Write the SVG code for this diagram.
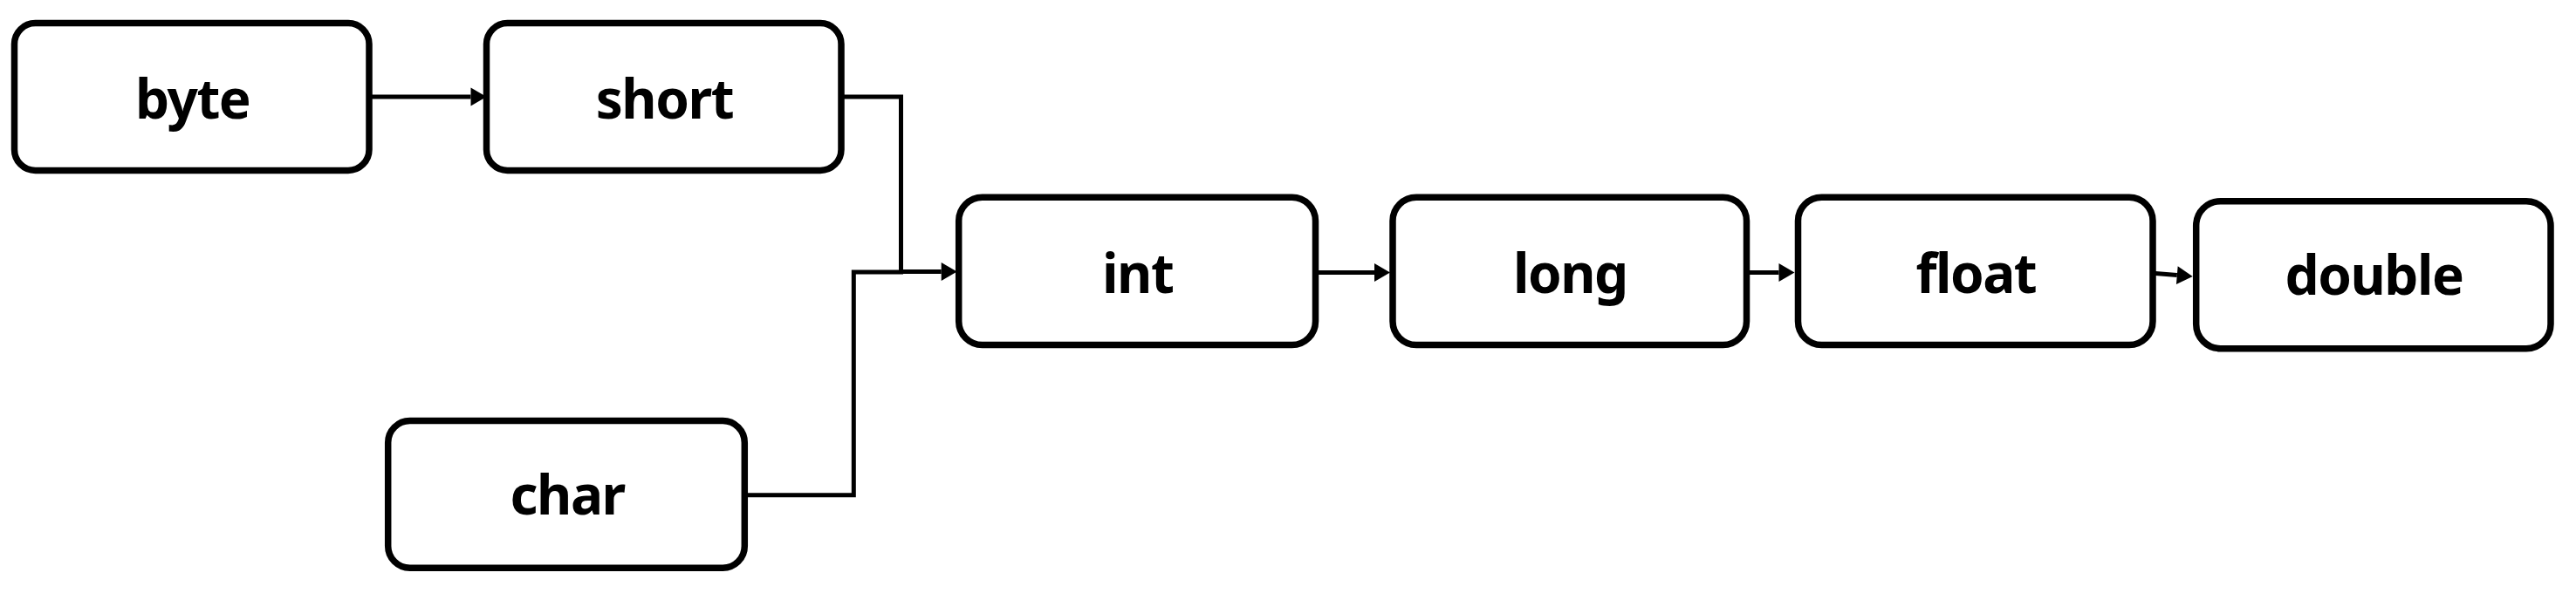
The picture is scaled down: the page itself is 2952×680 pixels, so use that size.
<svg xmlns="http://www.w3.org/2000/svg" width="2952" height="680" viewBox="0 0 2952 680">
<style>
.box{fill:#fff;stroke:#000;stroke-width:7.5}
.lbl{font-family:"Noto Sans","Open Sans","Liberation Sans",sans-serif;font-weight:bold;font-size:62px;letter-spacing:-1.5px;fill:#000;text-anchor:middle}
.edge{fill:none;stroke:#000;stroke-width:5}
</style>
<defs>
<marker id="arr" markerUnits="userSpaceOnUse" markerWidth="20" markerHeight="22" refX="0" refY="10.5" orient="auto" overflow="visible">
<path d="M0,0 L18,10.5 L0,21 z" fill="#000"/>
</marker>
</defs>
<rect width="2952" height="680" fill="#fff"/>
<g id="connectors">
<path class="edge" d="M423,111 L539.5,111" marker-end="url(#arr)"/>
<path class="edge" d="M964,111 L1032.5,111 L1032.5,311.5 L1078.7,311.5" marker-end="url(#arr)"/>
<path class="edge" d="M853.3,567.7 L978.3,567.7 L978.3,312 L1035,312"/>
<path class="edge" d="M1507.5,312.5 L1575,312.5" marker-end="url(#arr)"/>
<path class="edge" d="M2001.5,312.5 L2038.5,312.5" marker-end="url(#arr)"/>
<path class="edge" d="M2467,313.3 L2494.8,315.6" marker-end="url(#arr)"/>
</g>
<g id="node-byte">
<rect class="box" x="16.5" y="26.5" width="406.5" height="169" rx="24"/>
<text class="lbl" x="220.7" y="136">byte</text>
</g>
<g id="node-short">
<rect class="box" x="557.5" y="26.5" width="406.5" height="169" rx="24"/>
<text class="lbl" x="761.4" y="136">short</text>
</g>
<g id="node-char">
<rect class="box" x="444.7" y="482.5" width="408.6" height="168.7" rx="25"/>
<text class="lbl" x="650.2" y="590">char</text>
</g>
<g id="node-int">
<rect class="box" x="1098.7" y="226.3" width="408.8" height="169.2" rx="27"/>
<text class="lbl" x="1303.7" y="336">int</text>
</g>
<g id="node-long">
<rect class="box" x="1596" y="226.3" width="405.5" height="169.2" rx="27"/>
<text class="lbl" x="1799.4" y="336">long</text>
</g>
<g id="node-float">
<rect class="box" x="2060.5" y="226.3" width="406.5" height="169.2" rx="27"/>
<text class="lbl" x="2264.4" y="336">float</text>
</g>
<g id="node-double">
<rect class="box" x="2516.7" y="230.7" width="406.3" height="169" rx="28"/>
<text class="lbl" x="2720.5" y="337.7">double</text>
</g>
</svg>
